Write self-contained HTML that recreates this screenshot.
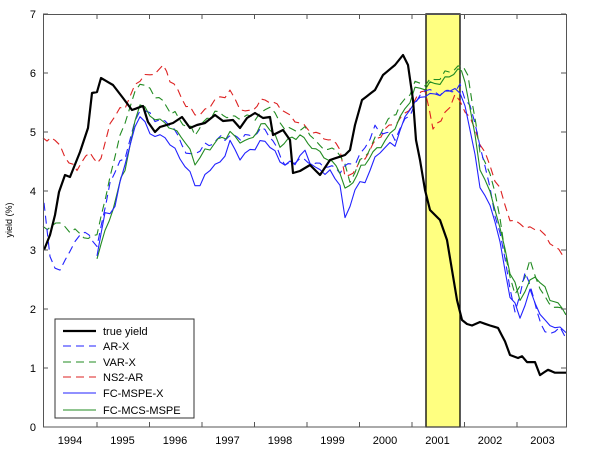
<!DOCTYPE html>
<html><head><style>
body{margin:0;background:#fff;}
svg text{font-family:"Liberation Sans",sans-serif;}
</style></head><body>
<svg id="s" width="600" height="461" viewBox="0 0 600 461" xmlns="http://www.w3.org/2000/svg">
<rect x="0" y="0" width="600" height="461" fill="#fff"/>
<rect x="426" y="14" width="34" height="413" fill="#ffff80" stroke="#000" stroke-width="1.3"/>
<g id="series"></g>
<rect x="43.5" y="14.5" width="523" height="412.5" fill="none" stroke="#555" stroke-width="1"/>
<g id="ticks" stroke="#555" stroke-width="1"></g>
<g font-size="11" fill="#000" id="labels"></g>
<text x="12" y="220" font-size="9" transform="rotate(-90 12 220)" text-anchor="middle">yield (%)</text>
<rect x="55" y="319" width="139" height="99" fill="#fff" stroke="#333" stroke-width="1"/>
<g font-size="11">
<line x1="63" y1="331" x2="96" y2="331" stroke="#000" stroke-width="2.2"/><text x="103" y="335">true yield</text>
<line x1="63" y1="346" x2="96" y2="346" stroke="#2222ff" stroke-width="1" stroke-dasharray="8,5"/><text x="103" y="350">AR-X</text>
<line x1="63" y1="362" x2="96" y2="362" stroke="#228b22" stroke-width="1" stroke-dasharray="8,5"/><text x="103" y="366">VAR-X</text>
<line x1="63" y1="377" x2="96" y2="377" stroke="#dd2222" stroke-width="1" stroke-dasharray="8,5"/><text x="103" y="381">NS2-AR</text>
<line x1="63" y1="393" x2="96" y2="393" stroke="#2222ff" stroke-width="1"/><text x="103" y="397">FC-MSPE-X</text>
<line x1="63" y1="410" x2="96" y2="410" stroke="#228b22" stroke-width="1"/><text x="103" y="414">FC-MCS-MSPE</text>
</g>
</svg>
<script>
var NS="http://www.w3.org/2000/svg";
function Y(v){return 427-59*v;}
function el(t,a,p){var e=document.createElementNS(NS,t);for(var k in a)e.setAttribute(k,a[k]);if(p)p.appendChild(e);return e;}
var tk=document.getElementById('ticks'),lb=document.getElementById('labels');
for(var i=0;i<=7;i++){var y=Y(i);el('line',{x1:43,y1:y,x2:48,y2:y},tk);el('line',{x1:561,y1:y,x2:566,y2:y},tk);
var t=el('text',{x:36,y:y+4,'text-anchor':'end'},lb);t.textContent=i;}
for(var k=0;k<9;k++){var x=97+52.5*k;el('line',{x1:x,y1:427,x2:x,y2:422},tk);el('line',{x1:x,y1:14,x2:x,y2:19},tk);}
for(var k=0;k<10;k++){var t=el('text',{x:70+52.5*k,y:444,'text-anchor':'middle'},lb);t.textContent=1994+k;}
function jit(pts,a){var out=[];for(var i=0;i<pts.length-1;i++){var p=pts[i],q=pts[i+1];var n=Math.max(1,Math.round((q[0]-p[0])/4.4));for(var j=0;j<n;j++){var f=j/n;var v=p[1]+(q[1]-p[1])*f;if(i+j>0)v+=a*Math.sin((p[0]+j*4.4)*1.7);out.push([p[0]+(q[0]-p[0])*f,v]);}}out.push(pts[pts.length-1]);return out;}
function draw(pts,col,w,dash,a){var P=jit(pts,a).map(function(p){return p[0].toFixed(1)+','+Y(p[1]).toFixed(1)}).join(' ');
var o={points:P,fill:'none',stroke:col,'stroke-width':w,'stroke-linejoin':'round'};if(dash)o['stroke-dasharray']=dash;el('polyline',o,document.getElementById('series'));}
var ns2=[[43,4.9],[55,4.9],[65,4.6],[77,4.4],[90,4.6],[101,4.5],[110,5.2],[125,5.45],[140,5.9],[150,6.0],[163,6.1],[170,5.85],[190,5.4],[200,5.25],[215,5.5],[230,5.65],[245,5.3],[265,5.6],[285,5.3],[300,5.1],[320,5.0],[340,4.7],[345,4.2],[365,4.6],[385,5.0],[405,5.35],[425,5.7],[433,5.0],[445,5.3],[455,5.6],[470,5.2],[485,4.6],[500,4.0],[510,3.5],[525,3.35],[540,3.3],[555,3.0],[566,2.9]];
var varx=[[43,3.4],[60,3.4],[75,3.3],[97,3.2],[110,4.3],[125,5.2],[140,5.85],[155,5.6],[175,5.3],[195,5.0],[215,5.3],[235,5.3],[255,5.2],[270,5.4],[285,5.0],[305,5.1],[320,4.8],[340,4.6],[350,4.2],[360,4.5],[380,5.0],[400,5.4],[415,5.8],[430,5.85],[445,6.0],[458,6.15],[468,6.0],[480,4.7],[495,4.0],[505,3.0],[515,2.2],[530,2.8],[545,2.2],[566,1.9]];
var arx=[[44,3.8],[50,2.9],[60,2.6],[70,3.0],[85,3.3],[97,3.0],[110,4.2],[125,4.6],[140,5.4],[155,5.2],[170,5.1],[190,4.6],[205,4.8],[225,4.9],[245,4.9],[265,5.1],[285,4.4],[300,4.5],[320,4.5],[340,4.3],[360,4.6],[375,5.1],[395,4.9],[410,5.3],[425,5.7],[440,5.6],[460,5.8],[470,5.4],[480,4.8],[495,3.6],[505,2.9],[515,1.9],[525,2.6],[545,1.6],[560,1.7],[566,1.5]];
var mcs=[[97,2.85],[105,3.3],[125,4.4],[140,5.5],[150,5.3],[165,5.2],[185,4.8],[195,4.5],[210,4.75],[230,4.95],[245,4.8],[265,5.2],[280,4.8],[300,4.9],[320,4.7],[340,4.3],[345,4.0],[365,4.5],[385,4.8],[400,5.2],[415,5.7],[430,5.8],[445,5.9],[458,6.1],[465,5.9],[480,4.4],[495,3.7],[510,2.6],[520,2.2],[535,2.6],[550,2.2],[566,1.9]];
var mspe=[[97,2.9],[105,3.6],[115,3.7],[125,4.5],[140,5.3],[150,5.0],[165,4.95],[180,4.6],[195,4.15],[200,4.05],[210,4.4],[220,4.5],[230,4.8],[240,4.55],[255,4.7],[265,4.9],[275,4.65],[285,4.4],[295,4.5],[305,4.7],[315,4.35],[330,4.3],[340,4.1],[345,3.5],[355,4.0],[365,4.2],[380,4.7],[395,4.8],[410,5.4],[425,5.6],[440,5.6],[455,5.7],[465,5.5],[480,4.1],[495,3.5],[505,2.7],[510,2.2],[520,1.9],[530,2.3],[545,1.8],[560,1.7],[566,1.6]];
function py(a){return a.map(function(p){return [p[0],(427-p[1])/59];});}
var tru=py([[44,250],[50,235],[55,215],[59,192],[65,175],[70,177],[80,152],[88,128],[92,93],[97,92],[101,78],[113,85],[123,98],[132,110],[143,106],[148,122],[155,132],[160,127],[173,123],[182,117],[190,128],[197,125],[205,123],[215,115],[223,121],[233,120],[240,128],[247,118],[255,113],[263,118],[270,117],[273,135],[283,130],[290,140],[293,173],[300,171],[310,165],[320,175],[330,160],[345,155],[350,150],[355,125],[362,100],[375,90],[383,75],[395,65],[403,55],[408,65],[413,100],[416,140],[420,160],[425,190],[430,210],[440,220],[447,240],[452,270],[457,300],[462,320],[467,324]]).concat([[472,1.72],[480,1.78],[490,1.72],[498,1.68],[505,1.45],[510,1.22],[518,1.17],[522,1.2],[527,1.1],[535,1.1],[540,0.88],[548,0.97],[555,0.92],[566,0.92]]);
draw(ns2,'#dd2222',1.1,'8,5',0.06);
draw(varx,'#228b22',1.1,'8,5',0.06);
draw(arx,'#2222ff',1.1,'8,5',0.06);
draw(mcs,'#228b22',1.1,null,0.06);
draw(mspe,'#2222ff',1.1,null,0.06);
draw(tru,'#000',2.2,null,0);
</script>
</body></html>
